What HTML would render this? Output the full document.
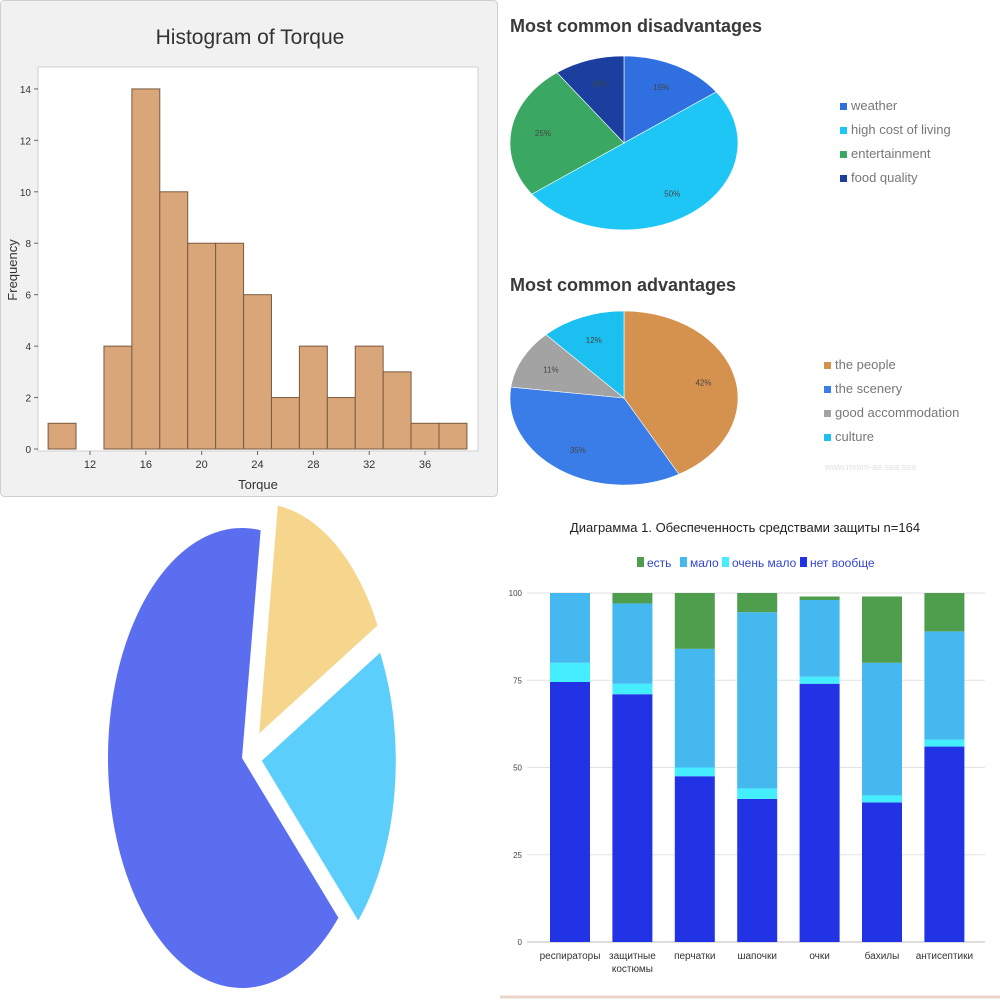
<!DOCTYPE html>
<html><head><meta charset="utf-8"><style>
body{margin:0;background:#fff;width:1000px;height:1000px;overflow:hidden}
svg{display:block}
.h{font-family:"Liberation Sans Narrow","Liberation Sans",sans-serif}
.s{font-family:"Liberation Sans",sans-serif}
</style></head><body>
<svg id="svg" width="1000" height="1000" viewBox="0 0 1000 1000" xmlns="http://www.w3.org/2000/svg">
<g id="hist">
<rect x="0.5" y="0.5" width="497" height="496" rx="4" fill="#f1f1f1" stroke="#cfcfcf"/>
<rect x="38" y="67" width="440" height="384" fill="#fff" stroke="#cfcfcf"/>
<text class="h" x="250" y="44" font-size="21" fill="#333" text-anchor="middle">Histogram of Torque</text>
<text class="h" x="258" y="489" font-size="13" fill="#333" text-anchor="middle">Torque</text>
<text class="h" x="0" y="0" font-size="13" fill="#333" text-anchor="middle" transform="translate(17,270) rotate(-90)">Frequency</text>
</g>
<g id="pies">
<text class="s" x="510" y="32" font-size="18" font-weight="bold" fill="#3a3a3a">Most common disadvantages</text>
<text class="s" x="510" y="291" font-size="18" font-weight="bold" fill="#3a3a3a">Most common advantages</text>
<text class="s" x="825" y="470" font-size="9" fill="#e2e2e2">www.mmm-ae.sea.sea</text>
</g>
<g id="bigpie"></g>
<g id="bars">
<text class="h" x="745" y="532" font-size="13" fill="#222" text-anchor="middle">Диаграмма 1. Обеспеченность средствами защиты n=164</text>
<line x1="500" y1="997" x2="1000" y2="997" stroke="#ead6cc" stroke-width="3"/>
</g>
</svg>
<script>
// Histogram data
const histBinStarts = [9,11,13,15,17,19,21,23,25,27,29,31,33,35,37];
const histCounts = [1,0,4,14,10,8,8,6,2,4,2,4,3,1,1];
const histXTicks = [12,16,20,24,28,32,36];
const histYTicks = [0,2,4,6,8,10,12,14];
// Disadvantages pie
const disLabels = ["weather","high cost of living","entertainment","food quality"];
const disValues = [15,50,25,10];
// Advantages pie
const advLabels = ["the people","the scenery","good accommodation","culture"];
const advValues = [42,35,11,12];
// Exploded pie
const bigValues = [65,15,20];
// Stacked bars
const barCats = [["респираторы"],["защитные","костюмы"],["перчатки"],["шапочки"],["очки"],["бахилы"],["антисептики"]];
const serNet = [74.5,71,47.5,41,74,40,56];
const serOchenMalo = [5.5,3,2.5,3,2,2,2];
const serMalo = [20,23,34,50.5,22,38,31];
const serEst = [0,3,16,5.5,1,19,11];
const barSeriesNames = ["есть","мало","очень мало","нет вообще"];
const barYTicks = [0,25,50,75,100];

const NS="http://www.w3.org/2000/svg";
function mk(tag,attrs,parent,txt){const e=document.createElementNS(NS,tag);for(const k in attrs)e.setAttribute(k,attrs[k]);if(txt!==undefined)e.textContent=txt;parent.appendChild(e);return e;}

// ---- histogram
const hg=document.getElementById('hist');
const hx=v=>90+(v-12)*13.96;
const hy=v=>449-v*25.72;
histYTicks.forEach(t=>{
  const l=mk('line',{x1:34,x2:38,y1:hy(t),y2:hy(t),stroke:'#666'},hg);
  
  const tx=mk('text',{x:31,y:hy(t)+4,'font-size':10,fill:'#333','text-anchor':'end',class:'h'},hg,t);
  
});
histXTicks.forEach(t=>{
  const l=mk('line',{x1:hx(t),x2:hx(t),y1:451,y2:455,stroke:'#666'},hg);
  
  const tx=mk('text',{x:hx(t),y:468,'font-size':11,fill:'#333','text-anchor':'middle',class:'h'},hg,t);
  
});
histCounts.forEach((c,i)=>{
  if(c<=0)return;
  const x0=hx(histBinStarts[i]),x1=hx(histBinStarts[i]+2);
  const r=mk('rect',{x:x0,y:hy(c),width:x1-x0,height:hy(0)-hy(c),fill:'#d9a679',stroke:'#7a5a40','stroke-width':1},hg);
  
});

// ---- ellipse pie helper
function pie(parent,cx,cy,rx,ry,vals,colors,labels,name,showPct){
  const tot=vals.reduce((a,b)=>a+b,0);let a=0;
  vals.forEach((v,i)=>{
    const a0=a/tot*2*Math.PI,a1=(a+v)/tot*2*Math.PI;a+=v;
    const p=t=>[cx+rx*Math.sin(t),cy-ry*Math.cos(t)];
    const [x0,y0]=p(a0),[x1,y1]=p(a1);
    const large=(a1-a0)>Math.PI?1:0;
    const s=mk('path',{d:`M${cx},${cy}L${x0},${y0}A${rx},${ry} 0 ${large} 1 ${x1},${y1}Z`,fill:colors[i],stroke:'#fff','stroke-width':0.6},parent);
    
    
    if(showPct){const m=(a0+a1)/2;const tx=mk('text',{x:cx+rx*0.72*Math.sin(m),y:cy-ry*0.72*Math.cos(m)+3,'font-size':8,fill:'#444','text-anchor':'middle',class:'s'},parent,v+'%');
      }
  });
}
function legend(parent,x,y0,dy,labels,colors,name){
  labels.forEach((l,i)=>{
    const r=mk('rect',{x:x,y:y0+i*dy-7,width:7,height:7,fill:colors[i]},parent);
    
    const t=mk('text',{x:x+11,y:y0+i*dy,'font-size':13,fill:'#777',class:'s'},parent,l);
    
  });
}
const pg=document.getElementById('pies');
const disColors=['#2f6fe0','#1ec6f5','#3aa862','#1b3f9e'];
const advColors=['#d5924f','#3a7de8','#a3a3a3','#1bbff0'];
pie(pg,624,143,114,87,disValues,disColors,disLabels,'disadvantages',true);
legend(pg,840,110,24,disLabels,disColors,'disadvantages');
pie(pg,624,398,114,87,advValues,advColors,advLabels,'advantages',true);
legend(pg,824,369,24,advLabels,advColors,'advantages');

// ---- exploded pie
const bg=document.getElementById('bigpie');
(function(){
  const cx=242,cy=758,rx=134,ry=230;
  const colors=['#5b6ef0','#f5d68c','#5ccefc'];
  const names=['blue','yellow','light-blue'];
  const tot=bigValues.reduce((a,b)=>a+b,0);
  let acc=134/360*tot;
  bigValues.forEach((v,i)=>{
    const a0=acc/tot*2*Math.PI,a1=(acc+v)/tot*2*Math.PI;acc+=v;
    const m=(a0+a1)/2,off=i===0?0:(i===1?30:20);
    const ox=off*Math.sin(m),oy=-off*Math.cos(m);
    const p=t=>[cx+ox+rx*Math.sin(t),cy+oy-ry*Math.cos(t)];
    const [x0,y0]=p(a0),[x1,y1]=p(a1);
    const large=(a1-a0)>Math.PI?1:0;
    const s=mk('path',{d:`M${cx+ox},${cy+oy}L${x0},${y0}A${rx},${ry} 0 ${large} 1 ${x1},${y1}Z`,fill:colors[i]},bg);
    
    
  });
})();

// ---- stacked bars
const sg=document.getElementById('bars');
const by=v=>942-v*3.49;
const bx=i=>570+i*62.4;
barYTicks.forEach(t=>{
  const l=mk('line',{x1:527,x2:985,y1:by(t),y2:by(t),stroke:t===0?'#bbb':'#e2e2e2'},sg);
  
  const tx=mk('text',{x:522,y:by(t)+3,'font-size':8,fill:'#444','text-anchor':'end',class:'h'},sg,t);
  
});
const legColors=['#4e9e4e','#44b8ef','#44eeff','#2233e6'];
const legX=[637,680,722,800];
barSeriesNames.forEach((n,i)=>{
  const r=mk('rect',{x:legX[i],y:557,width:7,height:10,fill:legColors[i]},sg);
  
  const t=mk('text',{x:legX[i]+10,y:567,'font-size':12,fill:'#3344cc',class:'h'},sg,n);
  
});
const stackSeries=[serNet,serOchenMalo,serMalo,serEst];
const stackColors=['#2233e6','#44eeff','#44b8ef','#4e9e4e'];
const stackNames=['net-voobshe','ochen-malo','malo','est'];
barCats.forEach((c,i)=>{
  let base=0;
  stackSeries.forEach((s,k)=>{
    const v=s[i];
    if(v>0){
      const r=mk('rect',{x:bx(i)-20,y:by(base+v),width:40,height:by(base)-by(base+v),fill:stackColors[k]},sg);
      
    }
    base+=v;
  });
  c.forEach((line,j)=>{
    const t=mk('text',{x:bx(i),y:959+j*13,'font-size':10,fill:'#333','text-anchor':'middle',class:'h'},sg,line);
    
  });
});
</script>
</body></html>
